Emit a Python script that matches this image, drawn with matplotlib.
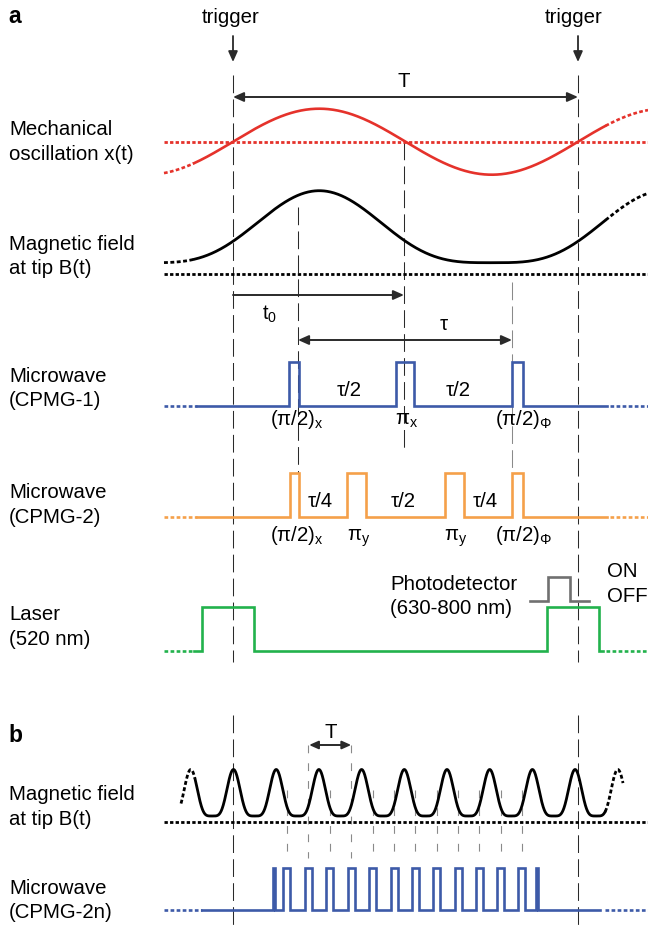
import matplotlib.pyplot as plt
import numpy as np

plt.rcParams['font.family'] = ['Liberation Sans', 'DejaVu Sans']
plt.rcParams['mathtext.fontset'] = 'custom'
plt.rcParams['mathtext.rm'] = 'Liberation Sans'
plt.rcParams['mathtext.it'] = 'Liberation Sans'
plt.rcParams['mathtext.sf'] = 'Liberation Sans'

RED = '#e5322b'
BLUE = '#3d5aa8'
ORANGE = '#f5a04a'
GREEN = '#22b24c'
PHOTO_GRAY = '#707070'
DARK = '#2a2a2a'
GUIDE_GRAY = '#8a8a8a'
FS = 14.7

# --- shared geometry (pixel coordinates) ---
TRIGGER_X = [233, 578]
LEAD_IN = (164, 648)

# panel a: mechanical oscillation and tip field
MECH_ZERO_X = 233        # rising zero crossing
MECH_PERIOD = 345
MECH_MID_Y = 141.7
MECH_AMP = 33
FIELD_A_TOP = 190.7
FIELD_A_BOTTOM = 262.7
FIELD_A_BASE = 273.5
FIELD_POWER_A = 1.75
CURVE_SOLID_A = (194, 605)

# pulse sequences: (rise, fall) edges
CPMG1_PULSES = [(289.3, 299.0), (395.7, 414.4), (512.0, 522.7)]
CPMG1_Y = (406.0, 361.7)
CPMG1_SOLID = (197, 607)
CPMG2_PULSES = [(290.0, 299.0), (346.7, 366.3), (445.0, 464.0), (512.0, 522.7)]
CPMG2_Y = (517.3, 473.3)
CPMG2_SOLID = (197, 607)
LASER_PULSES = [(202.0, 254.0), (547.0, 599.0)]
LASER_Y = (650.7, 606.5)
LASER_SOLID = (194, 603)
PHOTO_PULSES = [(548.3, 570.0)]
PHOTO_Y = (600.5, 576.5)
PHOTO_SPAN = (530, 588.5)

# dashed guides in panel a: (x, y_top, y_bottom, colour)
GUIDES_A = [(233, 75, 662, DARK), (578, 75, 662, DARK),
            (298, 207, 473, DARK), (404, 142, 450, DARK),
            (512, 282, 473, GUIDE_GRAY)]

# panel b
FIELD_B_PEAK_X = 233.5
FIELD_B_PERIOD = 42.7
FIELD_B_TOP = 769.5
FIELD_B_BOTTOM = 816.0
FIELD_B_BASE = 821.5
FIELD_POWER_B = 2.3
FIELD_B_SOLID = (195, 605)
FIELD_B_DOTTED = [(181, 195), (605, 623)]
CPMG2N_PI_X = [286.8, 308.3, 329.8, 351.2, 372.7, 394.2,
               415.4, 436.8, 458.2, 479.4, 500.8, 521.5]
CPMG2N_HALF_PI = [(272.6, 274.6), (536.4, 538.4)]
CPMG2N_PI_WIDTH = 6.8
CPMG2N_Y = (910.0, 867.7)
CPMG2N_SOLID = (201.5, 599.5)
T_MARK_B = (309.1, 351.2)


def pulse_line(x0, x1, pulses, base, top):
    xs, ys = [x0], [base]
    for a, b in pulses:
        xs += [a, a, b, b]
        ys += [base, top, top, base]
    xs.append(x1)
    ys.append(base)
    return xs, ys


def field_shape(phase, power):
    return ((1 + np.sin(phase)) / 2) ** power


fig = plt.figure(figsize=(6.48, 9.25), dpi=100)
ax = fig.add_axes([0, 0, 1, 1])
ax.set_xlim(0, 648)
ax.set_ylim(925, 0)
ax.axis('off')

dash_long = (0, (17, 6))
dots = (0, (1.4, 0.9))

# guides
for x, y0, y1, c in GUIDES_A:
    ax.plot([x, x], [y0, y1], color=c, lw=0.75, ls=dash_long)
for x in TRIGGER_X:
    ax.plot([x, x], [715, 925], color=DARK, lw=0.75, ls=dash_long)
for x in CPMG2N_PI_X:
    y0 = 745 if min(abs(x - t) for t in T_MARK_B) < 2 else 790
    ax.plot([x, x], [y0, 858], color=GUIDE_GRAY, lw=0.8, ls=(0, (7, 9)))

# trigger arrows and labels
for x, lx in zip(TRIGGER_X, [230.4, 573.6]):
    ax.annotate('', xy=(x, 62), xytext=(x, 36),
                arrowprops=dict(arrowstyle='-|>,head_length=0.45,head_width=0.2',
                                lw=1.3, color=DARK, shrinkA=0, shrinkB=0,
                                mutation_scale=14))
    ax.text(lx, 23, 'trigger', fontsize=FS, ha='center', va='baseline')

ax.text(8, 22.7, 'a', fontsize=16.5, fontweight='bold', va='baseline')
ax.text(8, 741.7, 'b', fontsize=16.5, fontweight='bold', va='baseline')

darrow = dict(arrowstyle='<|-|>,head_length=0.45,head_width=0.2', lw=1.4,
              color=DARK, shrinkA=0, shrinkB=0, mutation_scale=14)
sarrow = dict(arrowstyle='-|>,head_length=0.45,head_width=0.2', lw=1.4,
              color=DARK, shrinkA=0, shrinkB=0, mutation_scale=14)
ax.annotate('', xy=(578, 97), xytext=(233, 97), arrowprops=darrow)
ax.text(404, 87.3, 'T', fontsize=FS, ha='center', va='baseline')
ax.annotate('', xy=(404, 295), xytext=(233, 295), arrowprops=sarrow)
ax.text(262, 320, r'$\mathregular{t_0}$', fontsize=FS, ha='left', va='baseline')
ax.annotate('', xy=(512, 340), xytext=(298, 340), arrowprops=darrow)
ax.text(444, 330, 'τ', fontsize=FS, ha='center', va='baseline')
ax.annotate('', xy=(T_MARK_B[1], 745), xytext=(T_MARK_B[0], 745),
            arrowprops=dict(darrow, mutation_scale=12))
ax.text(330.5, 738, 'T', fontsize=FS, ha='center', va='baseline')

# left-hand labels
labels = [('Mechanical', 135), ('oscillation x(t)', 160),
          ('Magnetic field', 250), ('at tip B(t)', 274.5),
          ('Microwave', 381.7), ('(CPMG-1)', 406),
          ('Microwave', 498.3), ('(CPMG-2)', 523.3),
          ('Laser', 620), ('(520 nm)', 645),
          ('Magnetic field', 800), ('at tip B(t)', 825),
          ('Microwave', 894), ('(CPMG-2n)', 918.5)]
for s, y in labels:
    ax.text(9, y, s, fontsize=FS, ha='left', va='baseline')

# mechanical oscillation and tip field, panel a
x_all = np.linspace(LEAD_IN[0], LEAD_IN[1], 800)
phase = 2 * np.pi * (x_all - MECH_ZERO_X) / MECH_PERIOD
mech_y = MECH_MID_Y - MECH_AMP * np.sin(phase)
field_y = FIELD_A_BOTTOM - (FIELD_A_BOTTOM - FIELD_A_TOP) * field_shape(phase, FIELD_POWER_A)
solid = (x_all >= CURVE_SOLID_A[0]) & (x_all <= CURVE_SOLID_A[1])
left = x_all <= CURVE_SOLID_A[0]
right = x_all >= CURVE_SOLID_A[1]
ax.plot(LEAD_IN, [MECH_MID_Y] * 2, color=RED, lw=2, ls=(0, (1.2, 0.8)))
ax.plot(LEAD_IN, [FIELD_A_BASE] * 2, color='black', lw=2, ls=(0, (1.2, 0.8)))
for y, c, w in [(mech_y, RED, 1.9), (field_y, 'black', 2.0)]:
    ax.plot(x_all[solid], y[solid], color=c, lw=w)
    ax.plot(x_all[left], y[left], color=c, lw=w, ls=dots)
    ax.plot(x_all[right], y[right], color=c, lw=w, ls=dots)

# pulse sequences of panel a
for pulses, (base, top), (s0, s1), c in [
        (CPMG1_PULSES, CPMG1_Y, CPMG1_SOLID, BLUE),
        (CPMG2_PULSES, CPMG2_Y, CPMG2_SOLID, ORANGE),
        (LASER_PULSES, LASER_Y, LASER_SOLID, GREEN)]:
    xs, ys = pulse_line(s0, s1, pulses, base, top)
    ax.plot(xs, ys, color=c, lw=1.9, solid_joinstyle='miter')
    ax.plot([LEAD_IN[0], s0], [base, base], color=c, lw=1.9, ls=dots)
    ax.plot([s1 + 3, LEAD_IN[1]], [base, base], color=c, lw=1.9, ls=dots)

xs, ys = pulse_line(PHOTO_SPAN[0], PHOTO_SPAN[1], PHOTO_PULSES, *PHOTO_Y)
ax.plot(xs, ys, color=PHOTO_GRAY, lw=1.9, solid_joinstyle='miter')
ax.text(390, 590, 'Photodetector', fontsize=FS, ha='left', va='baseline')
ax.text(390, 614, '(630-800 nm)', fontsize=FS, ha='left', va='baseline')
ax.text(606.5, 576.7, 'ON', fontsize=FS, ha='left', va='baseline')
ax.text(606.5, 601.7, 'OFF', fontsize=FS, ha='left', va='baseline')

# pulse labels
sub_labels = [
    (349, 396.5, 'τ/2'), (458, 396.5, 'τ/2'),
    (296.7, 425, r'$\mathregular{(π/2)_x}$'), (407, 425, r'$\mathregular{π_x}$'),
    (524, 425, r'$\mathregular{(π/2)_Φ}$'),
    (320.5, 506.7, 'τ/4'), (403, 506.7, 'τ/2'), (485, 506.7, 'τ/4'),
    (296.7, 541, r'$\mathregular{(π/2)_x}$'), (358.8, 541, r'$\mathregular{π_y}$'),
    (455.8, 541, r'$\mathregular{π_y}$'), (524, 541, r'$\mathregular{(π/2)_Φ}$'),
]
for x, y, s in sub_labels:
    ax.text(x, y, s, fontsize=FS, ha='center', va='baseline')

# panel b: tip field
xb = np.linspace(FIELD_B_DOTTED[0][0], FIELD_B_DOTTED[1][1], 2000)
phb = 2 * np.pi * (xb - FIELD_B_PEAK_X) / FIELD_B_PERIOD + np.pi / 2
fb = FIELD_B_BOTTOM - (FIELD_B_BOTTOM - FIELD_B_TOP) * field_shape(phb, FIELD_POWER_B)
ax.plot(LEAD_IN, [FIELD_B_BASE] * 2, color='black', lw=2, ls=(0, (1.2, 0.8)))
m = (xb >= FIELD_B_SOLID[0]) & (xb <= FIELD_B_SOLID[1])
ax.plot(xb[m], fb[m], color='black', lw=2)
for a, b in FIELD_B_DOTTED:
    m = (xb >= a) & (xb <= b)
    ax.plot(xb[m], fb[m], color='black', lw=2, ls=dots)

# panel b: CPMG-2n
pulses_2n = sorted(CPMG2N_HALF_PI +
                   [(c - CPMG2N_PI_WIDTH / 2, c + CPMG2N_PI_WIDTH / 2) for c in CPMG2N_PI_X])
xs, ys = pulse_line(CPMG2N_SOLID[0], CPMG2N_SOLID[1], pulses_2n, *CPMG2N_Y)
ax.plot(xs, ys, color=BLUE, lw=1.9, solid_joinstyle='miter')
ax.plot([LEAD_IN[0], CPMG2N_SOLID[0]], [CPMG2N_Y[0]] * 2, color=BLUE, lw=1.9, ls=dots)
ax.plot([605, LEAD_IN[1]], [CPMG2N_Y[0]] * 2, color=BLUE, lw=1.9, ls=dots)

fig.savefig('out.png', dpi=100)
